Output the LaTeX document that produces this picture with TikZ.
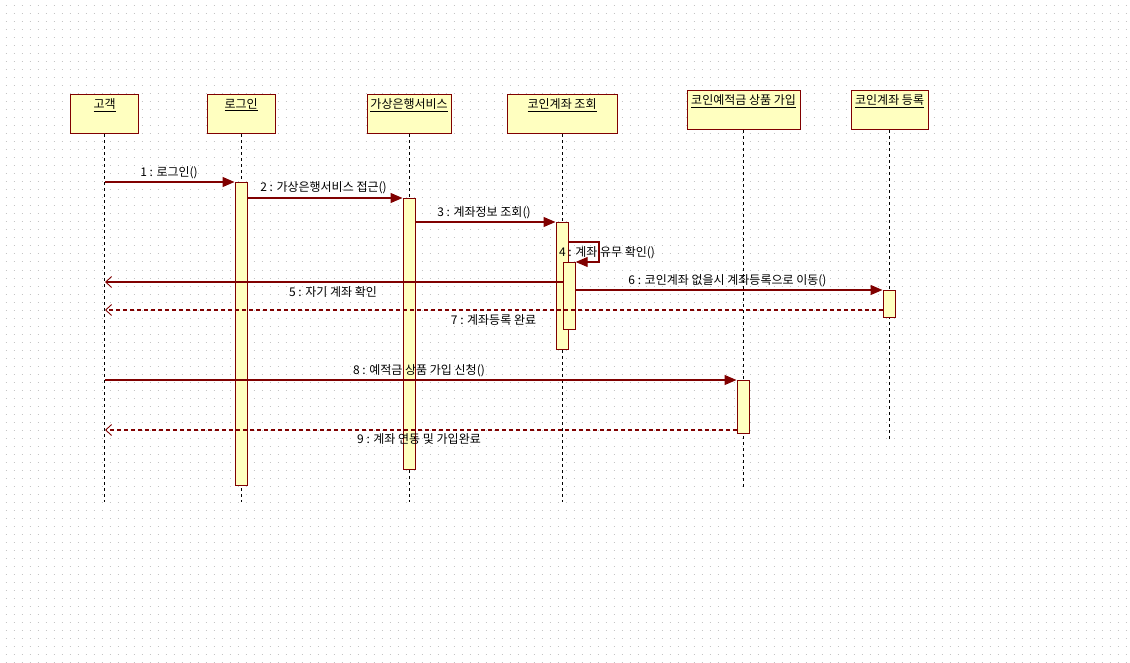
\documentclass[tikz,border=0pt]{standalone}
\usepackage{fontspec}
\setmainfont{Noto Sans CJK KR}
\usetikzlibrary{arrows.meta,calc}
\definecolor{umlred}{HTML}{800000}
\definecolor{umlfill}{HTML}{FFFFC0}
\definecolor{griddot}{HTML}{C4C4C4}
\begin{document}
\begin{tikzpicture}[x=1pt,y=-1pt,
  head/.style={draw=umlred, fill=umlfill, line width=1.2pt, inner sep=0pt, anchor=north west},
  ttl/.style={inner sep=0pt, anchor=base, font=\fontsize{12}{14}\selectfont},
  life/.style={draw=black, line width=1pt, dash pattern=on 3pt off 3pt},
  act/.style={draw=umlred, fill=umlfill, line width=1.2pt, inner sep=0pt, minimum width=12pt, anchor=north west},
  msg/.style={draw=umlred, line width=1.1pt, -{Triangle[length=12pt,width=10pt]}},
  ret/.style={draw=umlred, line width=1.1pt, dash pattern=on 4pt off 3pt, -{Straight Barb[length=6pt,width=11pt,line width=0.9pt]}},
  retsolid/.style={draw=umlred, line width=1.1pt, -{Straight Barb[length=6pt,width=11pt,line width=0.9pt]}},
  lbl/.style={inner sep=0pt, font=\fontsize{12}{14}\selectfont}
]
\useasboundingbox[fill=white] (0,0) rectangle (1130,663);
% dot grid
\foreach \yy in {6,14,...,662}
  \draw[griddot, line width=1pt, dash pattern=on 1pt off 7pt] (5.5,\yy) -- (1130,\yy);

% heads
\node[head, minimum width=68pt, minimum height=39pt] (h1) at (70,94) {};
\node[head, minimum width=68pt, minimum height=39pt] (h2) at (206.5,94) {};
\node[head, minimum width=84pt, minimum height=39pt] (h3) at (366.5,94) {};
\node[head, minimum width=110pt, minimum height=39pt] (h4) at (506.5,94) {};
\node[head, minimum width=113pt, minimum height=39pt] (h5) at (686.5,90) {};
\node[head, minimum width=77pt, minimum height=39pt] (h6) at (850.5,90) {};

\node[ttl] (t1) at ($(h1.north)+(0,14.5)$) {\underline{고객}};
\node[ttl] (t2) at ($(h2.north)+(0,14.5)$) {\underline{로그인}};
\node[ttl] (t3) at ($(h3.north)+(0,14.5)$) {\underline{가상은행서비스}};
\node[ttl] (t4) at ($(h4.north)+(0,14.5)$) {\underline{코인계좌 조회}};
\node[ttl] (t5) at ($(h5.north)+(0,14.5)$) {\underline{코인예적금 상품 가입}};
\node[ttl] (t6) at ($(h6.north)+(0,14.5)$) {\underline{코인계좌 등록}};

% lifeline ends
\coordinate (e1) at (h1.south |- 0,502);
\coordinate (e2) at (h2.south |- 0,502);
\coordinate (e3) at (h3.south |- 0,502);
\coordinate (e4) at (h4.south |- 0,502);
\coordinate (e5) at (h5.south |- 0,487);
\coordinate (e6) at (h6.south |- 0,439);
\draw[life] (h1.south) -- (e1);
\draw[life] (h2.south) -- (e2);
\draw[life] (h3.south) -- (e3);
\draw[life] (h4.south) -- (e4);
\draw[life] (h5.south) -- (e5);
\draw[life] (h6.south) -- (e6);

% activations
\node[act, minimum height=303pt] (a2) at (234.5,182) {};
\node[act, minimum height=271pt] (a3) at (402.5,198) {};
\node[act, minimum height=127pt] (a4) at (555.5,222) {};
\node[act, minimum height=67pt] (a4b) at (562.5,262) {};
\node[act, minimum height=27pt] (a6) at (882.5,290) {};
\node[act, minimum height=53pt] (a8) at (736.5,380) {};

% free-end coordinates on lifeline of 고객
\coordinate (c1) at (105,182);
\coordinate (c5) at (105,282);
\coordinate (c7) at (105,310);
\coordinate (c8) at (105,380);
\coordinate (c9) at (105,430);
\coordinate (s4a) at (599,242);

% messages
\draw[msg] (c1) -- (a2.north west);
\draw[msg] (a2.east |- a3.north west) -- (a3.north west);
\draw[msg] (a3.east |- a4.north west) -- (a4.north west);
\draw[msg] (a4.east |- s4a) -- (s4a) -- (s4a |- a4b.north east) -- (a4b.north east);
\draw[retsolid] (a4b.west |- c5) -- (c5);
\draw[msg] (a4b.east |- a6.north west) -- (a6.north west);
\draw[ret] (a6.west |- c7) -- (c7);
\draw[msg] (c8) -- (a8.north west);
\draw[ret] (a8.west |- c9) -- (c9);

% labels
\node[lbl] (l1) at (169,173) {1 : 로그인()};
\node[lbl] (l2) at (323.5,188) {2 : 가상은행서비스 접근()};
\node[lbl] (l3) at (484,213) {3 : 계좌정보 조회()};
\node[lbl] (l4) at (607,252.5) {4 : 계좌 유무 확인()};
\node[lbl] (l5) at (333,292) {5 : 자기 계좌 확인};
\node[lbl] (l6) at (727.5,280.5) {6 : 코인계좌 없을시 계좌등록으로 이동()};
\node[lbl] (l7) at (493.5,320) {7 : 계좌등록 완료};
\node[lbl] (l8) at (419,370.5) {8 : 예적금 상품 가입 신청()};
\node[lbl] (l9) at (419,439.5) {9 : 계좌 연동 및 가입완료};
\end{tikzpicture}
\end{document}
